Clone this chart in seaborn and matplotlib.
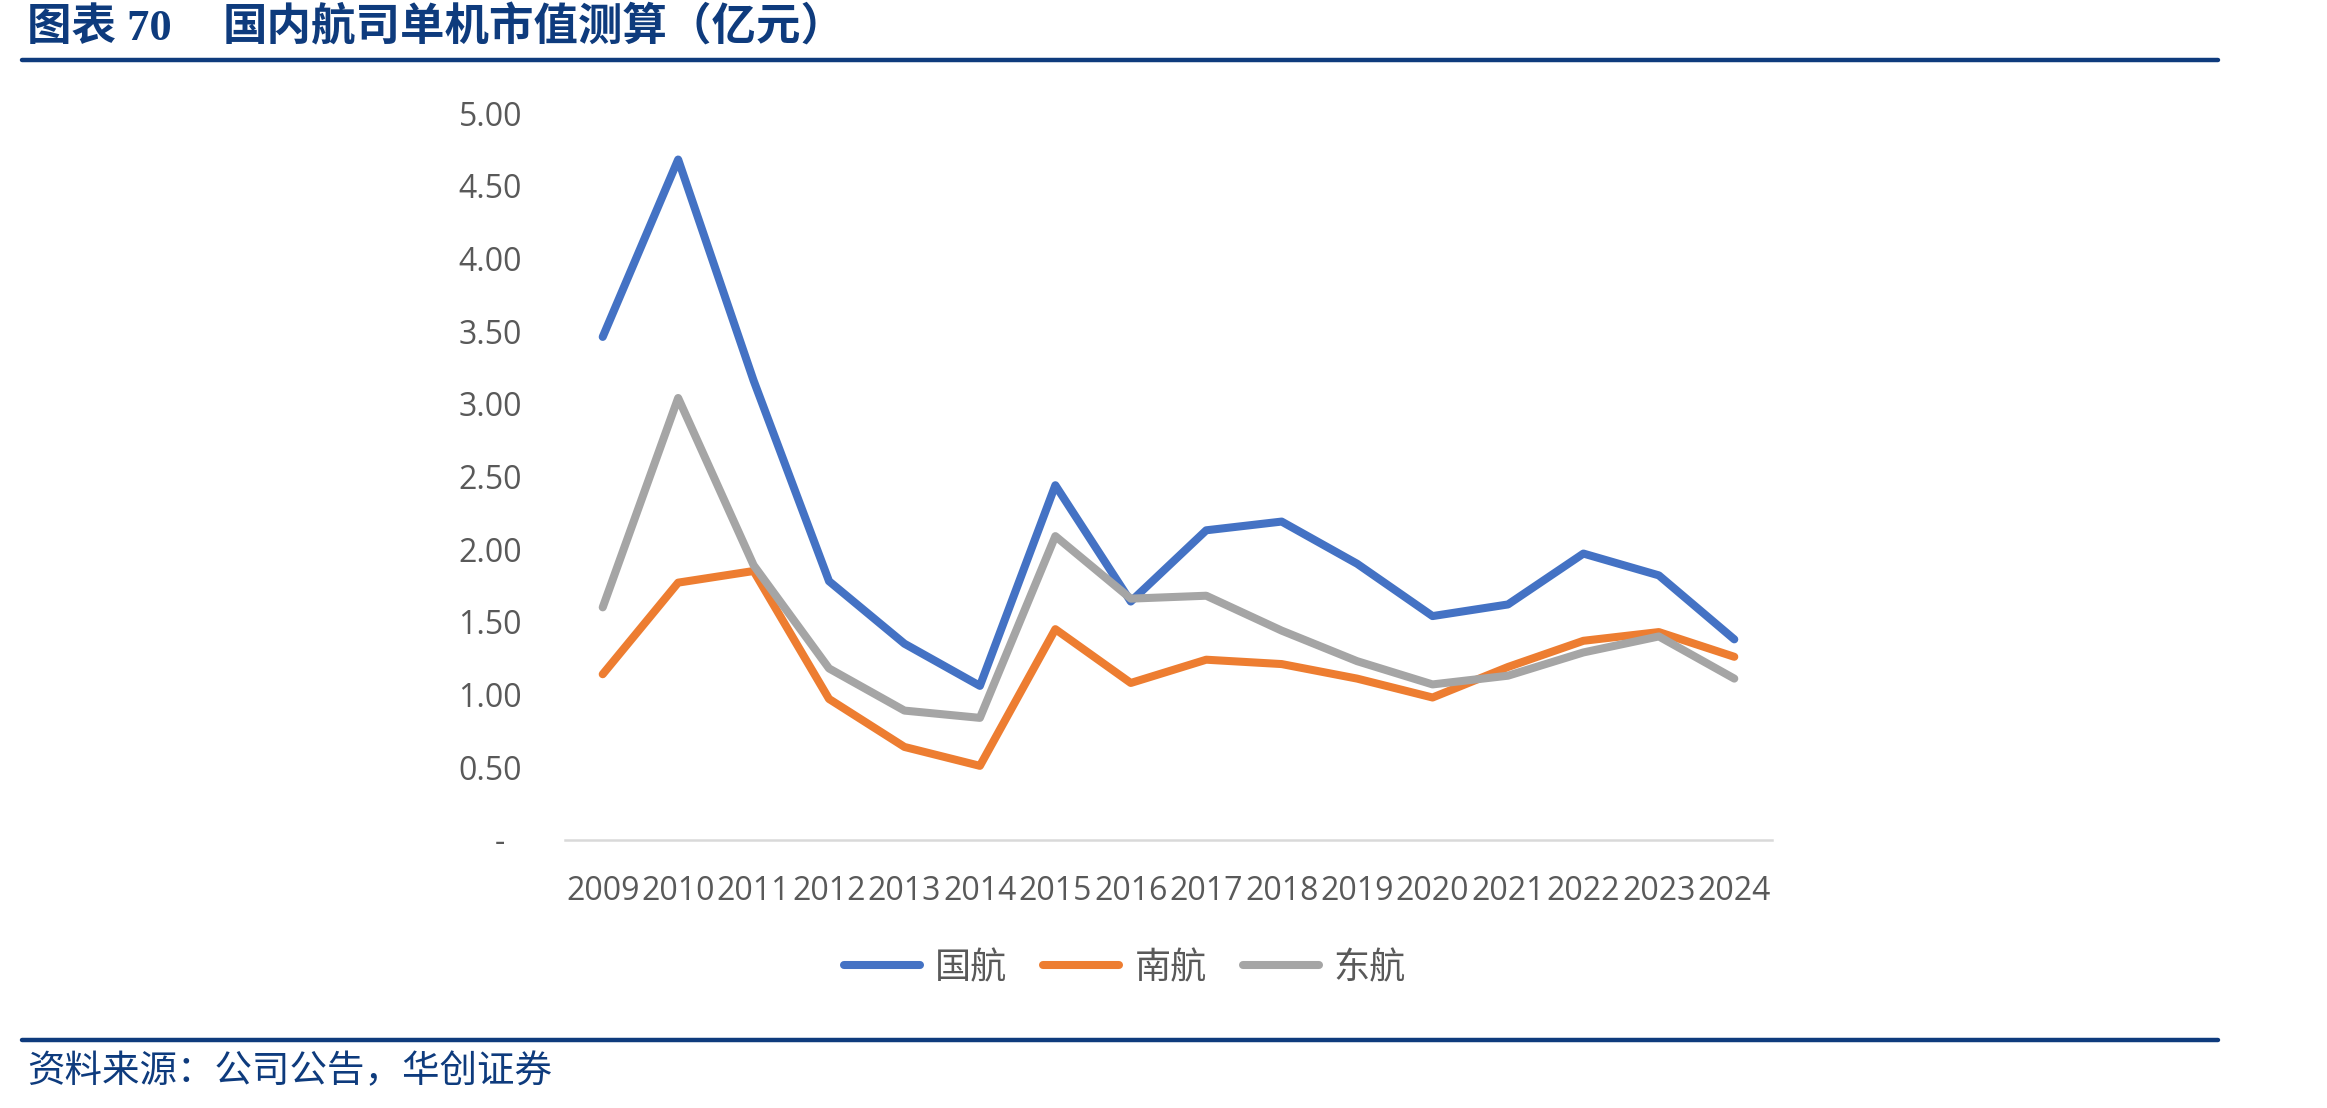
import matplotlib.pyplot as plt
import pandas as pd
import seaborn as sns

# data (亿元)
years = list(range(2009, 2025))
air_china = [3.46, 4.68, 3.16, 1.78, 1.35, 1.06, 2.44, 1.64, 2.13, 2.19,
             1.90, 1.54, 1.62, 1.97, 1.82, 1.38]
china_southern = [1.14, 1.77, 1.85, 0.97, 0.64, 0.51, 1.45, 1.08, 1.24, 1.21,
                  1.11, 0.98, 1.19, 1.37, 1.43, 1.26]
china_eastern = [1.60, 3.04, 1.89, 1.18, 0.89, 0.84, 2.09, 1.66, 1.68, 1.44,
                 1.23, 1.07, 1.13, 1.29, 1.40, 1.11]
series_names = ["国航", "南航", "东航"]
yticks = [0, 0.5, 1.0, 1.5, 2.0, 2.5, 3.0, 3.5, 4.0, 4.5, 5.0]

colors = ["#4472C4", "#ED7D31", "#A5A5A5"]
navy = "#0E3B7D"
grey_txt = "#595959"

sns.set_theme(style="white")
plt.rcParams["font.family"] = ["Open Sans", "Noto Sans CJK SC"]

df = pd.concat(
    [
        pd.DataFrame({"year": years, "value": vals, "公司": name})
        for name, vals in zip(series_names, [air_china, china_southern, china_eastern])
    ],
    ignore_index=True,
)

fig = plt.figure(figsize=(23.27, 11.08), dpi=100)
ax = fig.add_axes([565 / 2327, 1 - 840 / 1108, (1772 - 565) / 2327, (840 - 113) / 1108])

sns.lineplot(
    data=df, x="year", y="value", hue="公司", hue_order=series_names,
    palette=colors, linewidth=5.8, ax=ax, legend=True,
)
for line in ax.get_lines():
    line.set_solid_capstyle("round")
    line.set_solid_joinstyle("round")

ax.set_xlim(2008.5, 2024.5)
ax.set_ylim(0, 5)
ax.set_xticks(years)
ax.set_xticklabels([str(y) for y in years])
ax.set_yticks(yticks)
ax.set_yticklabels(["-  "] + [f"{v:.2f}" for v in yticks[1:]])
ax.set_xlabel("")
ax.set_ylabel("")
ax.tick_params(axis="y", length=0, pad=31, labelsize=23, labelcolor=grey_txt)
ax.tick_params(axis="x", length=0, pad=25, labelsize=23, labelcolor=grey_txt)
for side in ["top", "right", "left"]:
    ax.spines[side].set_visible(False)
ax.spines["bottom"].set_color("#D9D9D9")
ax.spines["bottom"].set_linewidth(1.8)
ax.grid(False)

# legend below the plot
handles, labels = ax.get_legend_handles_labels()
ax.get_legend().remove()
for h in handles:
    h.set_solid_capstyle("round")
    h.set_linewidth(5.8)
leg = fig.legend(
    handles, labels, loc="center", bbox_to_anchor=(1125 / 2327, 1 - 969 / 1108),
    ncol=3, frameon=False, fontsize=26, handlelength=2.1, handletextpad=0.42,
    columnspacing=1.0,
)
for t in leg.get_texts():
    t.set_color(grey_txt)

# title, rules and source
title_font = ["Liberation Serif", "Noto Sans CJK SC"]
fig.text(27 / 2327, 1 - 28 / 1108, "图表 70", fontsize=32, fontweight="bold",
         color=navy, family=title_font, va="center", ha="left")
fig.text(223 / 2327, 1 - 28 / 1108, "国内航司单机市值测算（亿元）", fontsize=32,
         fontweight="bold", color=navy, family=title_font, va="center", ha="left")
fig.add_artist(plt.Line2D([22 / 2327, 2218 / 2327], [1 - 60 / 1108] * 2,
                          color=navy, linewidth=3.2, transform=fig.transFigure))
fig.add_artist(plt.Line2D([22 / 2327, 2218 / 2327], [1 - 1040 / 1108] * 2,
                          color=navy, linewidth=3.2, transform=fig.transFigure))
fig.text(27 / 2327, 1 - 1072 / 1108, "资料来源：公司公告，华创证券", fontsize=27,
         color=navy, style="italic", family=["Noto Sans CJK SC"], va="center", ha="left")

fig.savefig("out.png", dpi=100, facecolor="white")
